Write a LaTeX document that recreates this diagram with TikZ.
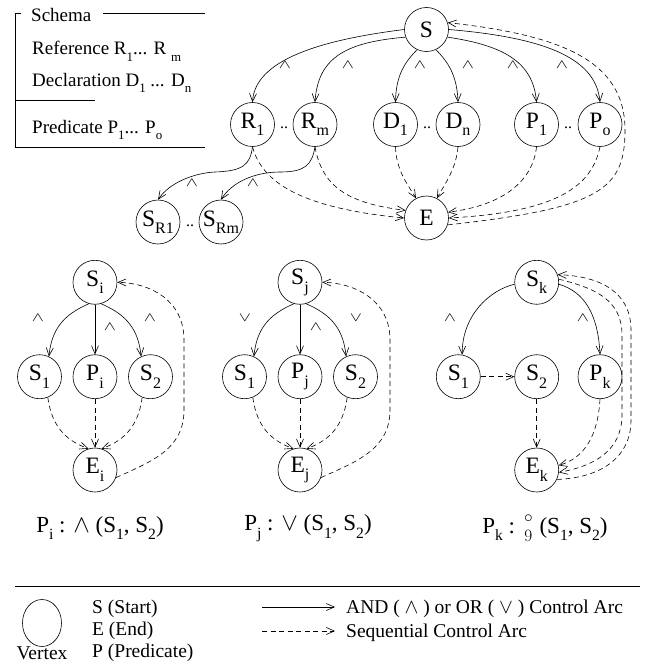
\documentclass[tikz,border=0pt]{standalone}
\usepackage{fontspec}
\setmainfont{Liberation Serif}
\usetikzlibrary{arrows.meta,shapes.geometric}
% lowered, reduced subscript as set in the drawing
\newcommand\lowsub[1]{\raisebox{-0.7ex}{\scalebox{0.68}{#1}}}
% schema composition sign: small ring over a small 9
\newcommand\zsemi{\mathrel{{\circ\atop 9}}}
% flat AND / OR marks written beside the control arcs
\newcommand\andmark{\scalebox{1.05}[0.75]{$\wedge$}}
\newcommand\ormark{\scalebox{1.05}[0.75]{$\vee$}}
\tikzset{
  vtx/.style={circle, draw, line width=0.6pt, minimum size=44pt, inner sep=0pt,
              font=\fontsize{23.5}{23.5}\selectfont},
  ctl/.style={line width=0.6pt, -{Straight Barb[length=8pt,width=7pt]}},
  seq/.style={ctl, dash pattern=on 5pt off 3.5pt},
  op/.style={inner sep=0pt, font=\fontsize{18}{18}\selectfont},
  dots/.style={inner sep=0pt, font=\fontsize{16}{16}\selectfont},
  txt/.style={inner sep=0pt, anchor=base west, font=\fontsize{19}{19}\selectfont},
  frm/.style={inner sep=0pt, font=\fontsize{23}{23}\selectfont},
  leg/.style={inner sep=0pt, anchor=base west, font=\fontsize{19.5}{19.5}\selectfont},
  rule/.style={line width=0.6pt},
}
\begin{document}
\begin{tikzpicture}[x=1pt,y=-1pt]
\useasboundingbox (0,0) rectangle (647,669);

% ---- schema box ----
\draw[rule] (21,13) -- (15,13) -- (15,147) -- (205,147);
\draw[rule] (103,13) -- (205,13);
\draw[rule] (15,100) -- (95,100);
\node[txt] (schema) at (31,21.5) {Schema};
\node[txt] (ref) at (32,55) {Reference R\lowsub{1}... R \lowsub{m}};
\node[txt] (decl) at (32,86) {Declaration D\lowsub{1} ... D\lowsub{n}};
\node[txt] (pred) at (32,133) {Predicate P\lowsub{1}... P\lowsub{o}};

% ---- schema graph ----
\node[vtx] (S)  at (426.5,29.5) {S};
\node[vtx] (R1) at (252.5,124.5) {R\lowsub{1}};
\node[vtx] (Rm) at (315,124.5) {R\lowsub{m}};
\node[vtx] (D1) at (395.5,124.5) {D\lowsub{1}};
\node[vtx] (Dn) at (458,124.5) {D\lowsub{n}};
\node[vtx] (P1) at (536.5,124.5) {P\lowsub{1}};
\node[vtx] (Po) at (600,124.5) {P\lowsub{o}};
\node[vtx] (SR1) at (158,222) {S\lowsub{R1}};
\node[vtx] (SRm) at (221,222) {S\lowsub{Rm}};
\node[vtx] (E)  at (426.5,218) {E};
\node[dots] (d1) at (284,128) {..};
\node[dots] (d2) at (427,128) {..};
\node[dots] (d3) at (568,128) {..};
\node[dots] (d4) at (190,226) {..};

\draw[ctl] (S.180) .. controls (320,40) and (255,60) .. (R1.north);
\draw[ctl] (S.200) .. controls (350,42) and (318,55) .. (Rm.north);
\draw[ctl] (S.245) .. controls (405,62) and (396,75) .. (D1.north);
\draw[ctl] (S.295) .. controls (448,62) and (457,75) .. (Dn.north);
\draw[ctl] (S.340) .. controls (500,45) and (533,60) .. (P1.north);
\draw[ctl] (S.0) .. controls (550,38) and (596,60) .. (Po.north);
\node[op] (w1) at (285,65) {\andmark};
\node[op] (w2) at (348,65) {\andmark};
\node[op] (w3) at (420,65) {\andmark};
\node[op] (w4) at (468,65) {\andmark};
\node[op] (w5) at (513,65) {\andmark};
\node[op] (w6) at (562,65) {\andmark};

\draw[ctl] (R1.south) .. controls (250,165) and (243,171) .. (215,172)
           .. controls (195,173) and (170,182) .. (SR1.north);
\draw[ctl] (Rm.south) .. controls (312,165) and (305,172) .. (280,172)
           .. controls (255,172) and (232,182) .. (SRm.north);
\node[op] (w7) at (192,183) {\andmark};
\node[op] (w8) at (253,183) {\andmark};

\draw[seq] (R1.south) .. controls (262,182) and (300,208) .. (E.180);
\draw[seq] (Rm.south) .. controls (322,185) and (345,203) .. (E.160);
\draw[seq] (D1.south) .. controls (396,170) and (408,185) .. (E.118);
\draw[seq] (Dn.south) .. controls (456,170) and (444,185) .. (E.62);
\draw[seq] (P1.south) .. controls (533,180) and (505,205) .. (E.15);
\draw[seq] (Po.south) .. controls (592,185) and (560,212) .. (E.0);
\draw[seq] (E.-18) .. controls (600,208) and (625,190) .. (625,130)
           .. controls (625,60) and (560,35) .. (S.18);

% ---- AND predicate ----
\node[vtx] (Si)  at (95,282.3) {S\lowsub{i}};
\node[vtx] (Si1) at (39.5,376.7) {S\lowsub{1}};
\node[vtx] (Pi)  at (95,376.7) {P\lowsub{i}};
\node[vtx] (Si2) at (150.5,376.7) {S\lowsub{2}};
\node[vtx] (Ei)  at (95,470) {E\lowsub{i}};
\draw[ctl] (Si.254) .. controls (68,313) and (52,325) .. (Si1.65);
\draw[ctl] (Si.south) -- (Pi.north);
\draw[ctl] (Si.286) .. controls (122,313) and (138,325) .. (Si2.115);
\node[op] (wi1) at (38,318) {\andmark};
\node[op] (wi2) at (110,327) {\andmark};
\node[op] (wi3) at (150,318) {\andmark};
\draw[seq] (Si1.292) .. controls (52,430) and (70,442) .. (Ei.107);
\draw[seq] (Pi.south) -- (Ei.north);
\draw[seq] (Si2.248) .. controls (138,430) and (120,442) .. (Ei.73);
\draw[seq] (Ei.-20) .. controls (150,462) and (184,450) .. (184,410)
           -- (184,340) .. controls (184,300) and (150,283) .. (Si.east);

% ---- OR predicate ----
\node[vtx] (Sj)  at (300,282.3) {S\lowsub{j}};
\node[vtx] (Sj1) at (244.5,376.7) {S\lowsub{1}};
\node[vtx] (Pj)  at (300,376.7) {P\lowsub{j}};
\node[vtx] (Sj2) at (355.5,376.7) {S\lowsub{2}};
\node[vtx] (Ej)  at (300,470) {E\lowsub{j}};
\draw[ctl] (Sj.254) .. controls (273,313) and (257,325) .. (Sj1.65);
\draw[ctl] (Sj.south) -- (Pj.north);
\draw[ctl] (Sj.286) .. controls (327,313) and (343,325) .. (Sj2.115);
\node[op] (vj1) at (245,318) {\ormark};
\node[op] (wj2) at (316,327) {\andmark};
\node[op] (vj3) at (356,318) {\ormark};
\draw[seq] (Sj1.292) .. controls (257,430) and (275,442) .. (Ej.107);
\draw[seq] (Pj.south) -- (Ej.north);
\draw[seq] (Sj2.248) .. controls (343,430) and (325,442) .. (Ej.73);
\draw[seq] (Ej.-20) .. controls (355,462) and (390,450) .. (390,410)
           -- (390,340) .. controls (390,300) and (355,283) .. (Sj.east);

% ---- sequential composition ----
\node[vtx] (Sk)  at (536.7,282.3) {S\lowsub{k}};
\node[vtx] (Sk1) at (458.3,376.7) {S\lowsub{1}};
\node[vtx] (Sk2) at (536.7,376.7) {S\lowsub{2}};
\node[vtx] (Pk)  at (600,376.7) {P\lowsub{k}};
\node[vtx] (Ek)  at (536.7,470) {E\lowsub{k}};
\draw[ctl] (Sk.185) .. controls (490,290) and (462,315) .. (Sk1.80);
\draw[ctl] (Sk.-5) .. controls (585,292) and (598,315) .. (Pk.north);
\node[op] (wk1) at (450,318) {\andmark};
\node[op] (wk2) at (583,318) {\andmark};
\draw[seq] (Sk1.east) -- (Sk2.west);
\draw[seq] (Sk2.south) -- (Ek.north);
\draw[seq] (Pk.south) .. controls (598,435) and (585,458) .. (Ek.12);
\draw[seq] (Sk.8) .. controls (595,288) and (622,300) .. (622,335)
           -- (622,415) .. controls (622,450) and (595,466) .. (Ek.-6);
\draw[seq] (Ek.-25) .. controls (600,478) and (631,458) .. (631,420)
           -- (631,330) .. controls (631,292) and (600,276) .. (Sk.20);

% ---- formulas ----
\node[frm] (fi) at (100,528) {P\lowsub{i} : $\wedge$ (S\lowsub{1}, S\lowsub{2})};
\node[frm] (fj) at (308,528) {P\lowsub{j} : $\vee$ (S\lowsub{1}, S\lowsub{2})};
\node[frm] (fk) at (545,528) {P\lowsub{k} : $\zsemi$ (S\lowsub{1}, S\lowsub{2})};

% ---- legend ----
\draw[rule] (15,586) -- (640,586);
\node[draw, ellipse, line width=0.6pt, minimum width=39pt, minimum height=47pt, inner sep=0pt] (vx) at (42,623) {};
\node[leg, anchor=base] (vxl) at (42,659) {Vertex};
\node[leg] (ls) at (92,613) {S (Start)};
\node[leg] (le) at (92,635) {E (End)};
\node[leg] (lp) at (92,657) {P (Predicate)};
\coordinate (a1) at (262,607);
\coordinate (a2) at (335,607);
\coordinate (b1) at (262,631);
\coordinate (b2) at (335,631);
\draw[ctl] (a1) -- (a2);
\draw[seq] (b1) -- (b2);
\node[leg] (la) at (346,613) {AND ( $\wedge$ ) or OR ( $\vee$ ) Control Arc};
\node[leg] (lb) at (346,637) {Sequential Control Arc};
\end{tikzpicture}
\end{document}
